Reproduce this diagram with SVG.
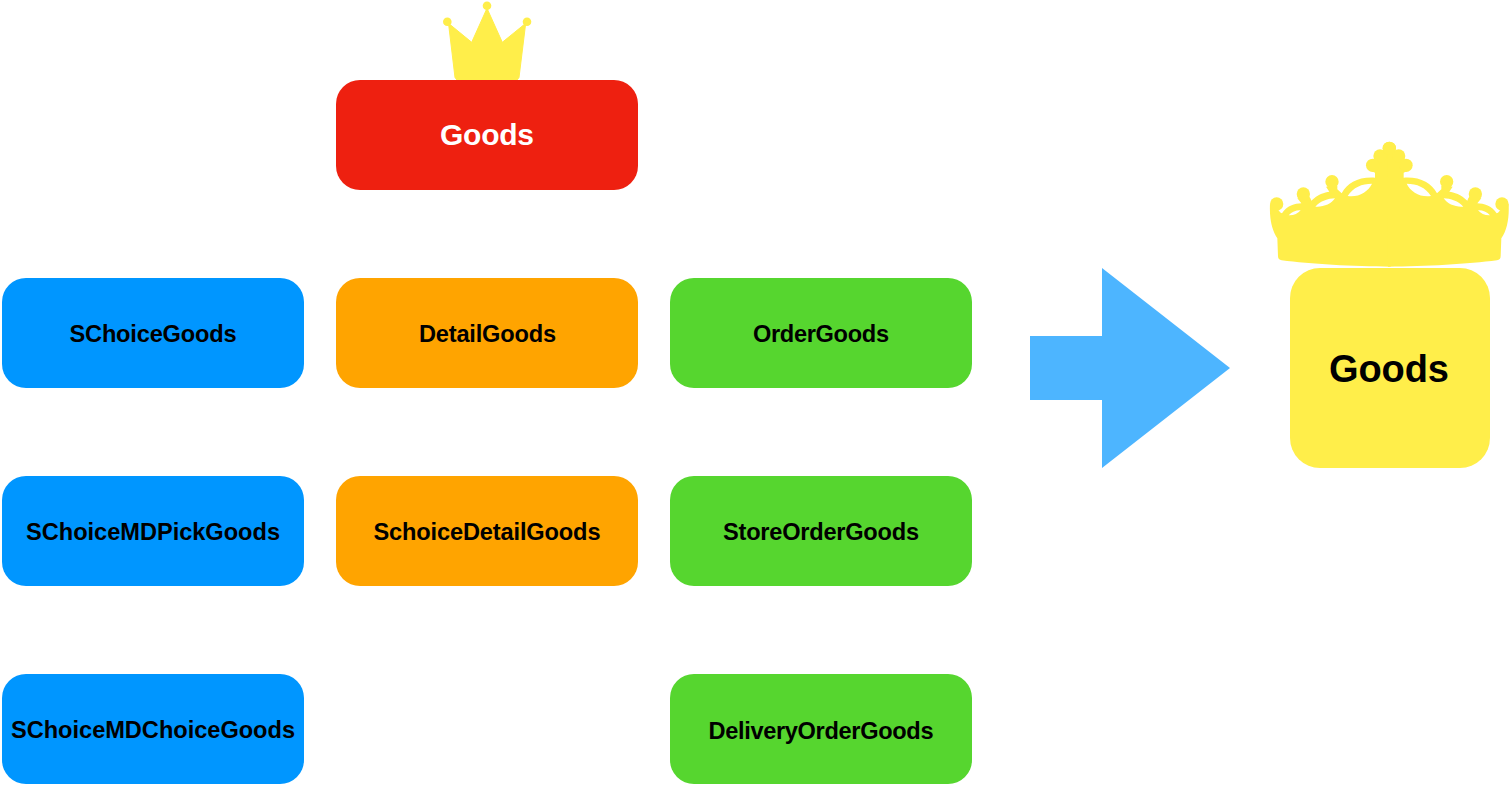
<svg xmlns="http://www.w3.org/2000/svg" width="1510" height="786" viewBox="0 0 1510 786">
<style>
text{font-family:"Liberation Sans",Arial,sans-serif;font-weight:bold;text-anchor:middle;font-size:23.6px;fill:#000}
.box{width:302px;height:110px;rx:24px;ry:24px}
.blue{fill:#0096FF}.orange{fill:#FFA400}.green{fill:#56D62F}.red{fill:#EE2010}
.yellow{fill:#FFEE4A}
</style>
<defs>
<g id="crownHalf">
<path fill-rule="evenodd" d="M392,410 C280,410 150,402 65,391 Q54,389 54,378 L52,325 C35,300 28,265 30,222 L50,235 L62,248 L66,250 C80,228 105,220 124,220 L112,205 L148,200 Q152,205 154,212 C172,194 195,186 208,185 L198,170 L232,168 L232,178 L245,190 C262,158 295,140 345,143 L345,128 L332,122 L340,90 L392,60 Z M86,256 C96,245 110,240 122,241 C114,251 100,257 86,256 Z M166,230 C180,214 205,205 225,205 C214,222 190,232 166,230 Z M263,198 C280,172 305,161 336,161 C325,185 295,203 263,198 Z"/>
<circle cx="50" cy="222" r="20"/><circle cx="130" cy="192" r="20"/><circle cx="216" cy="155" r="20"/>
<circle cx="360" cy="78" r="20"/><circle cx="338" cy="106" r="20"/><circle cx="388" cy="55" r="20"/>
</g>
</defs>
<g id="connectors">
<polygon points="1030,336 1102,336 1102,268 1230,368 1102,468 1102,400 1030,400" fill="#4DB5FF"/>
</g>
<g id="crown-small" class="yellow">
<polygon points="448.5,23.3 471.7,42.3 487,8.3 502.3,42.3 525.7,23.3 519,77.5 517,80 457,80 455,77.5" stroke="#FFEE4A" stroke-width="1" stroke-linejoin="round"/>
<circle cx="447.3" cy="21.7" r="4.3"/><circle cx="487" cy="5.7" r="4.3"/><circle cx="527" cy="21.7" r="4.3"/>
</g>
<g id="crown-large" class="yellow">
<g transform="translate(1260,130) scale(0.33333)"><use href="#crownHalf"/><use href="#crownHalf" transform="translate(776,0) scale(-1,1)"/></g>
</g>
<g id="node-goods-red"><rect class="box red" x="336" y="80"/><text x="487" y="145" textLength="94" style="font-size:30px;fill:#fff">Goods</text></g>
<g id="node-schoicegoods"><rect class="box blue" x="2" y="278"/><text x="153" y="342" textLength="167">SChoiceGoods</text></g>
<g id="node-detailgoods"><rect class="box orange" x="336" y="278"/><text x="487.5" y="342" textLength="137">DetailGoods</text></g>
<g id="node-ordergoods"><rect class="box green" x="670" y="278"/><text x="821" y="342" textLength="136">OrderGoods</text></g>
<g id="node-schoicemdpickgoods"><rect class="box blue" x="2" y="476"/><text x="153" y="540" textLength="254">SChoiceMDPickGoods</text></g>
<g id="node-schoicedetailgoods"><rect class="box orange" x="336" y="476"/><text x="487" y="540" textLength="227">SchoiceDetailGoods</text></g>
<g id="node-storeordergoods"><rect class="box green" x="670" y="476"/><text x="821" y="540" textLength="196">StoreOrderGoods</text></g>
<g id="node-schoicemdchoicegoods"><rect class="box blue" x="2" y="674"/><text x="153" y="738" textLength="284">SChoiceMDChoiceGoods</text></g>
<g id="node-deliveryordergoods"><rect class="box green" x="670" y="674"/><text x="821" y="739" textLength="225">DeliveryOrderGoods</text></g>
<g id="node-goods-yellow"><rect class="yellow" x="1290" y="268" width="200" height="200" rx="30" ry="30"/><text x="1389" y="382" textLength="120" style="font-size:38px">Goods</text></g>
</svg>
